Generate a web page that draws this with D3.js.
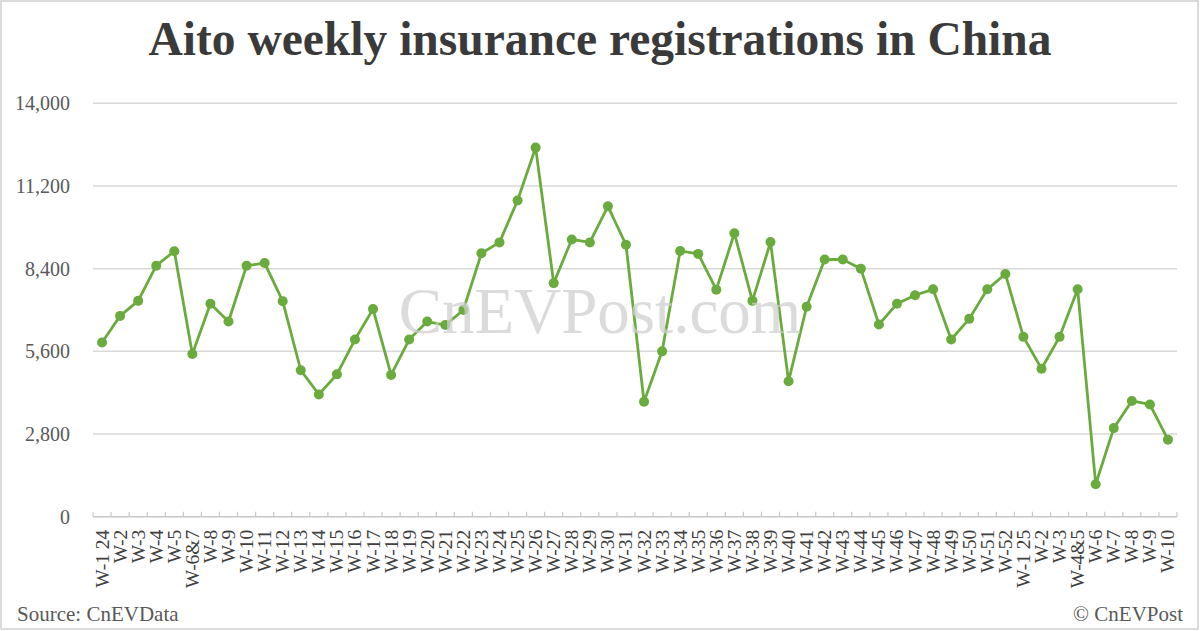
<!DOCTYPE html>
<html>
<head>
<meta charset="utf-8">
<script src="https://cdn.jsdelivr.net/npm/d3@7"></script>
<style>
html,body{margin:0;padding:0;background:#fff;}
svg{display:block;}
</style>
</head>
<body>
<svg id="chart" width="1200" height="631"></svg>
<script>
const categories = ["W-1 24","W-2","W-3","W-4","W-5","W-6&7","W-8","W-9","W-10","W-11","W-12","W-13","W-14","W-15","W-16","W-17","W-18","W-19","W-20","W-21","W-22","W-23","W-24","W-25","W-26","W-27","W-28","W-29","W-30","W-31","W-32","W-33","W-34","W-35","W-36","W-37","W-38","W-39","W-40","W-41","W-42","W-43","W-44","W-45","W-46","W-47","W-48","W-49","W-50","W-51","W-52","W-1 25","W-2","W-3","W-4&5","W-6","W-7","W-8","W-9","W-10"];
const values = [5900,6800,7310,8500,8990,5510,7210,6610,8500,8590,7300,4960,4140,4820,6000,7030,4800,6000,6610,6490,7000,8920,9290,10710,12500,7910,9390,9290,10510,9210,3890,5600,9000,8900,7690,9600,7310,9300,4590,7110,8710,8710,8400,6510,7210,7500,7700,6000,6700,7700,8220,6090,5010,6090,7700,1100,3000,3920,3800,2610];
const yTicks = [0,2800,5600,8400,11200,14000];
const title = "Aito weekly insurance registrations in China";
const source = "Source: CnEVData";
const credit = "© CnEVPost";
const watermark = "CnEVPost.com";

const svg = d3.select("#chart");
const W = 1200, H = 631;
const serif = "'Liberation Serif','Times New Roman',serif";
const pLeft = 93, pRight = 1177, pTop = 103.3, pBottom = 516.7;

svg.append("rect").attr("x",1).attr("y",1).attr("width",W-3).attr("height",H-3)
  .attr("fill","#fff").attr("stroke","#d0d0d0").attr("stroke-width",1.5);

svg.append("text").attr("x",600).attr("y",55).attr("text-anchor","middle")
  .attr("font-family",serif).attr("font-weight","bold").attr("font-size",47.5)
  .attr("fill","#3a3a3a").text(title);

const x = d3.scaleBand().domain(d3.range(categories.length)).range([pLeft,pRight]).paddingInner(0).paddingOuter(0);
const y = d3.scaleLinear().domain([0,14000]).range([pBottom,pTop]);

// gridlines
svg.append("g").selectAll("line").data(yTicks.filter(d=>d>0)).join("line")
  .attr("x1",pLeft).attr("x2",pRight).attr("y1",d=>y(d)).attr("y2",d=>y(d))
  .attr("stroke","#d9d9d9").attr("stroke-width",1.5);

// y axis labels
const yAxis = svg.append("g").attr("transform",`translate(${pLeft},0)`)
  .call(d3.axisLeft(y).tickValues(yTicks).tickSize(0).tickPadding(23).tickFormat(d3.format(",")));
yAxis.select(".domain").remove();
yAxis.selectAll("text").attr("font-family",serif).attr("font-size",20).attr("fill","#595959");

// x axis
const xAxisG = svg.append("g").attr("transform",`translate(0,${pBottom})`);
xAxisG.append("line").attr("x1",pLeft).attr("x2",pRight).attr("stroke","#c8c8c8").attr("stroke-width",1.5);
xAxisG.selectAll("line.tick").data(d3.range(categories.length+1)).join("line").attr("class","tick")
  .attr("x1",i=>pLeft + i*x.step()).attr("x2",i=>pLeft + i*x.step())
  .attr("y1",0).attr("y2",-5).attr("stroke","#c8c8c8").attr("stroke-width",1.2);
xAxisG.selectAll("text").data(categories).join("text")
  .attr("transform",(d,i)=>`translate(${x(i)+x.bandwidth()/2+6.5},13) rotate(-90)`)
  .attr("text-anchor","end").attr("font-family",serif).attr("font-size",19.5).attr("fill","#404040")
  .text(d=>d);

// line
const cx = i => x(i)+x.bandwidth()/2;
const line = d3.line().x((d,i)=>cx(i)).y(d=>y(d));
svg.append("path").datum(values).attr("d",line).attr("fill","none")
  .attr("stroke","#6aab3e").attr("stroke-width",2.8).attr("stroke-linejoin","round");
svg.append("g").selectAll("circle").data(values).join("circle")
  .attr("cx",(d,i)=>cx(i)).attr("cy",d=>y(d)).attr("r",5).attr("fill","#6aab3e");

// watermark
svg.append("text").attr("x",600).attr("y",333).attr("text-anchor","middle")
  .attr("font-family",serif).attr("font-size",65).attr("fill","#cfcfcf").attr("fill-opacity",0.75)
  .text(watermark);

svg.append("text").attr("x",17).attr("y",621).attr("font-family",serif).attr("font-size",21)
  .attr("fill","#595959").text(source);
svg.append("text").attr("x",1183).attr("y",621).attr("text-anchor","end").attr("font-family",serif).attr("font-size",21)
  .attr("fill","#595959").text(credit);
</script>
</body>
</html>
